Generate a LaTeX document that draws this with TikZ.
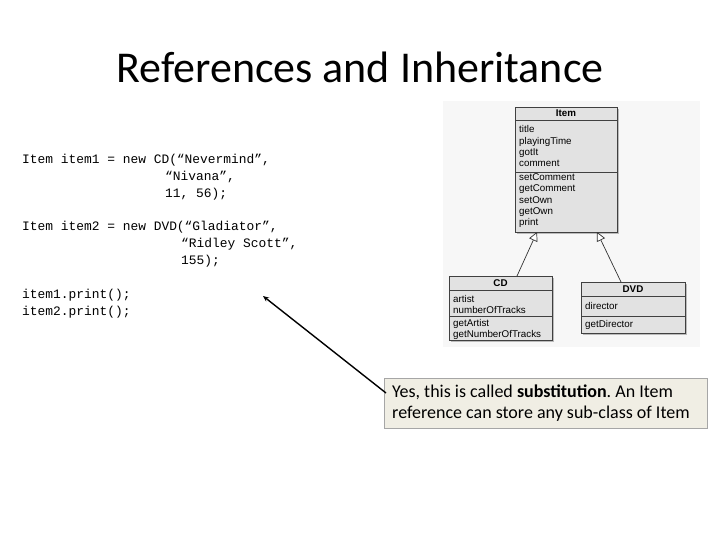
\documentclass[tikz,border=0pt]{standalone}
\usepackage{fontspec}
\setmainfont{Carlito}
\newfontfamily\umlf{Liberation Sans}
\newfontfamily\codef{Liberation Mono}
\usetikzlibrary{arrows.meta,shadows}
\definecolor{boxg}{RGB}{226,226,226}
\definecolor{beige}{RGB}{240,238,228}
\tikzset{
 umlbox/.style={draw=black!75,fill=boxg,line width=0.8pt,drop shadow={shadow xshift=2pt,shadow yshift=-2pt,fill=black!50}},
 umlt/.style={font=\umlf\fontsize{9.8}{11}\selectfont,anchor=base west,inner sep=0pt},
 umlh/.style={font=\umlf\bfseries\fontsize{9.8}{11}\selectfont,inner sep=0pt},
 codet/.style={font=\codef\fontsize{12.9}{17}\selectfont,anchor=west,inner sep=0pt},
 inh/.style={draw=black!80,line width=0.7pt,-{Triangle[open,length=9pt,width=9pt,fill=white]}}
}
\begin{document}
\frenchspacing
\begin{tikzpicture}[x=1pt,y=-1pt]
\useasboundingbox (0,0) rectangle (720,540);
\fill[white] (0,0) rectangle (720,540);
\node[font=\fontsize{44}{48}\selectfont] (title) at (360,67) {References and Inheritance};
% code
\node[codet] (c1) at (22,160) {Item item1 = new CD(“Nevermind”,};
\node[codet] (c2) at (165,177) {“Nivana”,};
\node[codet] (c3) at (165,194) {11, 56);};
\node[codet] (c4) at (22,227) {Item item2 = new DVD(“Gladiator”,};
\node[codet] (c5) at (181,244) {“Ridley Scott”,};
\node[codet] (c6) at (181,261) {155);};
\node[codet] (c7) at (22,295) {item1.print();};
\node[codet] (c8) at (22,312) {item2.print();};
% image area
\fill[black!3] (443,101) rectangle (700,347);
% Item
\path[umlbox] (515,107) rectangle (617,232);
\draw[black!75,line width=0.6pt] (515,120) -- (617,120) (515,172) -- (617,172);
\node[umlh] (ih) at (566,113.5) {Item};
\foreach \t/\y in {title/129,playingTime/141,gotIt/152,comment/163,setComment/177.5,getComment/188.5,setOwn/200,getOwn/211,print/222}
  \node[umlt] at (519,\y+3.5) {\t};
% CD
\path[umlbox] (449,276) rectangle (552,340);
\draw[black!75,line width=0.6pt] (449,290) -- (552,290) (449,316) -- (552,316);
\node[umlh] (cdh) at (500.5,283) {CD};
\foreach \t/\y in {artist/299,numberOfTracks/310,getArtist/322.5,getNumberOfTracks/333.5}
  \node[umlt] at (453,\y+3.5) {\t};
% DVD
\path[umlbox] (581,282) rectangle (685,333);
\draw[black!75,line width=0.6pt] (581,296) -- (685,296) (581,316) -- (685,316);
\node[umlh] (dvdh) at (633,289) {DVD};
\foreach \t/\y in {director/306,getDirector/324}
  \node[umlt] at (585,\y+3.5) {\t};
\coordinate (cdtop) at (517,276);
\coordinate (itb1) at (537,232);
\coordinate (dvdtop) at (621,282);
\coordinate (itb2) at (597,232);
\draw[inh] (cdtop) -- (itb1);
\draw[inh] (dvdtop) -- (itb2);
% callout
\node[draw=black!35,fill=beige,minimum width=323pt,minimum height=50pt,anchor=north west,inner sep=0pt] (call) at (384,378) {};
\node[anchor=west,inner sep=0pt,font=\fontsize{18}{21}\selectfont,align=left] (ct) at (392,403) {Yes, this is called \textbf{substitution}. An Item\\reference can store any sub-class of Item};
\coordinate (tip) at (263,296);
\draw[line width=1.4pt,-{Stealth[length=6pt,width=5pt]}] (386,393) -- (tip);
\end{tikzpicture}
\end{document}
